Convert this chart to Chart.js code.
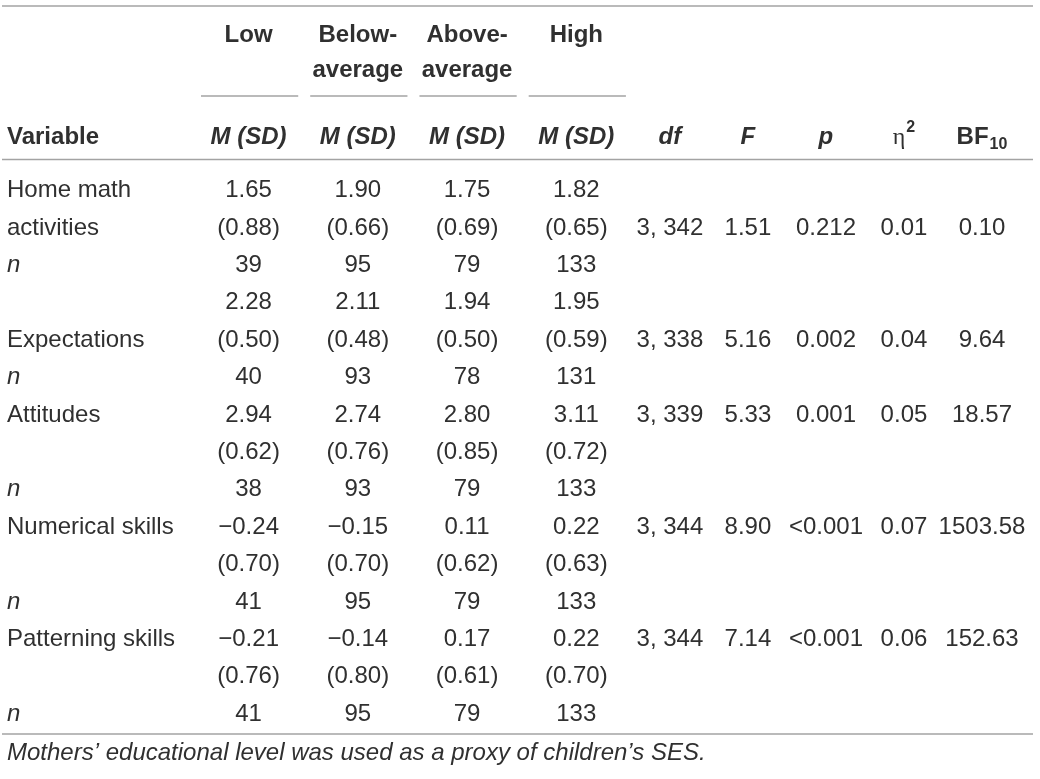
<!DOCTYPE html>
<html>
<head>
<meta charset="utf-8">
<script src="https://cdn.jsdelivr.net/npm/chart.js@4.4.1/dist/chart.umd.min.js"></script>
<style>
  body { margin: 0; background: #fff; }
  #wrap { width: 1040px; height: 779px; }
</style>
</head>
<body>
<div id="wrap"><canvas id="chart"></canvas></div>
<script>
// table content
const groups = ['Low', 'Below-average', 'Above-average', 'High']
const statCols = ['df', 'F', 'p', 'eta2', 'BF10']
const varColumn = ['Home math', 'activities', 'n', '', 'Expectations', 'n', 'Attitudes', '', 'n',
    'Numerical skills', '', 'n', 'Patterning skills', '', 'n']
// table line where the test statistics sit, per variable
const statLines = [1, 4, 6, 9, 12]

const lowM = [1.65, 2.28, 2.94, -0.24, -0.21]
const lowSD = [0.88, 0.50, 0.62, 0.70, 0.76]
const lowN = [39, 40, 38, 41, 41]
const belowM = [1.90, 2.11, 2.74, -0.15, -0.14]
const belowSD = [0.66, 0.48, 0.76, 0.70, 0.80]
const belowN = [95, 93, 93, 95, 95]
const aboveM = [1.75, 1.94, 2.80, 0.11, 0.17]
const aboveSD = [0.69, 0.50, 0.85, 0.62, 0.61]
const aboveN = [79, 78, 79, 79, 79]
const highM = [1.82, 1.95, 3.11, 0.22, 0.22]
const highSD = [0.65, 0.59, 0.72, 0.63, 0.70]
const highN = [133, 131, 133, 133, 133]

const dfVals = ['3, 342', '3, 338', '3, 339', '3, 344', '3, 344']
const fVals = [1.51, 5.16, 5.33, 8.90, 7.14]
const pVals = ['0.212', '0.002', '0.001', '<0.001', '<0.001']
const eta2Vals = [0.01, 0.04, 0.05, 0.07, 0.06]
const bf10Vals = [0.10, 9.64, 18.57, 1503.58, 152.63]

const note = 'Mothers\u2019 educational level was used as a proxy of children\u2019s SES.'

const FONT = '"Liberation Sans", Arial, Helvetica, sans-serif'
const TEXT = '#303030'
const RULE = '#a3a3a3'

function fmtMean(v) {
    return (v < 0 ? '\u2212' : '') + Math.abs(v).toFixed(2)
}

let groupCells = []
let groupData = [[lowM, lowSD, lowN], [belowM, belowSD, belowN], [aboveM, aboveSD, aboveN], [highM, highSD, highN]]
groupData.forEach((g, j) => {
    g[0].forEach((m, i) => {
        groupCells.push({ x: groups[j], y: 3 * i, t: fmtMean(m) })
        groupCells.push({ x: groups[j], y: 3 * i + 1, t: '(' + g[1][i].toFixed(2) + ')' })
        groupCells.push({ x: groups[j], y: 3 * i + 2, t: String(g[2][i]) })
    })
})

let statCells = []
dfVals.forEach((d, i) => {
    let row = statLines[i]
    statCells.push({ x: 'df', y: row, t: d })
    statCells.push({ x: 'F', y: row, t: fVals[i].toFixed(2) })
    statCells.push({ x: 'p', y: row, t: pVals[i] })
    statCells.push({ x: 'eta2', y: row, t: eta2Vals[i].toFixed(2) })
    statCells.push({ x: 'BF10', y: row, t: bf10Vals[i].toFixed(2) })
})

function rule(ctx, x1, x2, y) {
    ctx.beginPath()
    ctx.moveTo(x1, y)
    ctx.lineTo(x2, y)
    ctx.stroke()
}

const tablePlugin = {
    id: 'tableText',
    afterDatasetsDraw(chart) {
        const ctx = chart.ctx
        const { xg, xs, y } = chart.scales
        const left = 2, right = 1033
        ctx.save()
        ctx.fillStyle = TEXT
        ctx.textBaseline = 'alphabetic'

        // body cells, placed by the chart's own points
        ctx.textAlign = 'center'
        ctx.font = '24px ' + FONT
        chart.data.datasets.forEach((ds, di) => {
            chart.getDatasetMeta(di).data.forEach((pt, i) => {
                ctx.fillText(ds.data[i].t, pt.x, pt.y + 8.5)
            })
        })

        // variable column
        ctx.textAlign = 'left'
        varColumn.forEach((s, i) => {
            ctx.font = (s === 'n' ? 'italic ' : '') + '24px ' + FONT
            ctx.fillText(s, 7, y.getPixelForValue(i) + 8.5)
        })

        // header
        const bw = xg.width / groups.length
        ctx.textAlign = 'center'
        groups.forEach((g, j) => {
            const cx = xg.getPixelForValue(j)
            const parts = g.includes('-') ? [g.split('-')[0] + '-', g.split('-')[1]] : [g]
            ctx.font = 'bold 24px ' + FONT
            ctx.fillText(parts[0], cx, 42)
            if (parts[1]) ctx.fillText(parts[1], cx, 77)
            ctx.font = 'italic bold 24px ' + FONT
            ctx.fillText('M (SD)', cx, 143.5)
        })
        ctx.textAlign = 'left'
        ctx.font = 'bold 24px ' + FONT
        ctx.fillText('Variable', 7, 143.5)

        ctx.textAlign = 'center'
        ctx.font = 'italic bold 24px ' + FONT
        ;['df', 'F', 'p'].forEach((k, i) => ctx.fillText(k, xs.getPixelForValue(i), 143.5))

        // eta squared
        ctx.textAlign = 'left'
        let cx = xs.getPixelForValue(3)
        ctx.font = '24px "Liberation Serif", "DejaVu Serif", serif'
        let w1 = ctx.measureText('\u03b7').width
        ctx.font = 'bold 16px ' + FONT
        let w2 = ctx.measureText('2').width
        let x0 = cx - (w1 + w2 + 1) / 2
        ctx.font = '24px "Liberation Serif", "DejaVu Serif", serif'
        ctx.fillText('\u03b7', x0, 143.5)
        ctx.font = 'bold 16px ' + FONT
        ctx.fillText('2', x0 + w1 + 1, 132)

        // BF10
        cx = xs.getPixelForValue(4)
        ctx.font = 'bold 24px ' + FONT
        w1 = ctx.measureText('BF').width
        ctx.font = 'bold 16px ' + FONT
        w2 = ctx.measureText('10').width
        x0 = cx - (w1 + w2 + 1) / 2
        ctx.font = 'bold 24px ' + FONT
        ctx.fillText('BF', x0, 143.5)
        ctx.font = 'bold 16px ' + FONT
        ctx.fillText('10', x0 + w1 + 1, 149)

        // rules
        ctx.strokeStyle = RULE
        ctx.lineWidth = 1.5
        rule(ctx, left, right, 6)
        groups.forEach((g, j) => {
            const c = xg.getPixelForValue(j)
            rule(ctx, c - bw / 2 + 7, c + bw / 2 - 5, 96)
        })
        rule(ctx, left, right, 159.5)
        rule(ctx, left, right, 734)

        // footnote
        ctx.textAlign = 'left'
        ctx.font = 'italic 24px ' + FONT
        ctx.fillText(note, 7, 760)
        ctx.restore()
    }
}

let ctx = document.getElementById('chart')

new Chart(ctx, {
    type: 'scatter',
    data: {
        datasets: [{
            label: 'groups',
            data: groupCells,
            xAxisID: 'xg',
            yAxisID: 'y',
            pointRadius: 0
        }, {
            label: 'stats',
            data: statCells,
            xAxisID: 'xs',
            yAxisID: 'y',
            pointRadius: 0
        }]
    },
    options: {
        responsive: true,
        maintainAspectRatio: false,
        animation: false,
        events: [],
        layout: {
            padding: { left: 194, right: 19, top: 170, bottom: 48 }
        },
        plugins: {
            legend: { display: false },
            tooltip: { enabled: false }
        },
        scales: {
            xs: {
                type: 'category',
                labels: statCols,
                position: 'top',
                stack: 'cols',
                stackWeight: 1,
                offset: true,
                display: false
            },
            xg: {
                type: 'category',
                labels: groups,
                position: 'top',
                stack: 'cols',
                stackWeight: 1.12,
                offset: true,
                display: false
            },
            y: {
                type: 'linear',
                min: -0.5,
                max: varColumn.length - 0.5,
                reverse: true,
                display: false
            }
        }
    },
    plugins: [tablePlugin]
})
</script>
</body>
</html>
